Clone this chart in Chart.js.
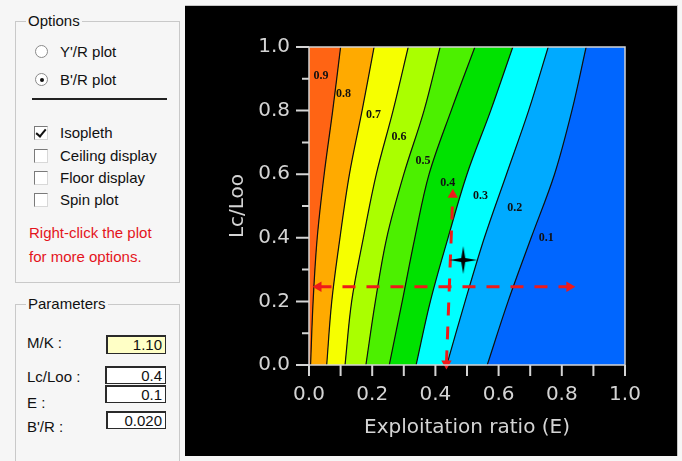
<!DOCTYPE html>
<html>
<head>
<meta charset="utf-8">
<script src="https://cdn.jsdelivr.net/npm/chart.js@4.4.1/dist/chart.umd.min.js"></script>
<style>
  html, body { margin: 0; padding: 0; width: 682px; height: 461px; overflow: hidden;
    background: #f6f6f6; font-family: "Liberation Sans", Arial, sans-serif; font-size: 15px; color: #111; }
  .t { position: absolute; white-space: nowrap; line-height: 18px; }
  .group { position: absolute; left: 15px; width: 165px; border: 1px solid #c9c9c9; box-sizing: border-box; }
  .legend { position: absolute; background: #f6f6f6; padding: 0 2px; line-height: 18px; }
  .radio { position: absolute; left: 35px; width: 13px; height: 13px; border-radius: 50%;
    box-sizing: border-box; border: 1px solid #8a8a8a; background: #fff; }
  .radio.on::after { content: ""; position: absolute; left: 3.5px; top: 3.5px; width: 4px; height: 4px;
    border-radius: 50%; background: #111; }
  .check { position: absolute; left: 34px; width: 14px; height: 14px; box-sizing: border-box; background: #fff;
    border-top: 1px solid #7a7a7a; border-left: 1px solid #7a7a7a; border-right: 1px solid #d8d8d8; border-bottom: 1px solid #d8d8d8; }
  .check.on::after { content: ""; position: absolute; left: 3px; top: 0px; width: 4px; height: 8px;
    border-right: 2.5px solid #111; border-bottom: 2.5px solid #111; transform: rotate(40deg); }
  .field { position: absolute; box-sizing: border-box; background: #fff; text-align: right; padding-right: 3px;
    border: 1px solid #2a2a2a; border-top-width: 2px; border-left-width: 2px; line-height: 15px; }
  .note { color: #e4141c; }
  #plotBox { position: absolute; left: 185px; top: 5px; width: 493px; height: 451px; box-sizing: border-box;
    border-top: 1px solid #c4c4c4; border-right: 1px solid #c4c4c4; background: #000; }
  #plot { display: block; background: #000; }
</style>
</head>
<body>

<div class="group" style="top:21px;height:262px;"></div>
<div class="legend" style="left:26px;top:12px;">Options</div>
<div class="radio" style="top:45px;"></div>
<div class="t" style="left:60px;top:43px;">Y'/R plot</div>
<div class="radio on" style="top:73px;"></div>
<div class="t" style="left:60px;top:71px;">B'/R plot</div>
<div style="position:absolute;left:32px;top:98px;width:135px;height:2px;background:#222;"></div>
<div class="check on" style="top:126px;"></div>
<div class="t" style="left:60px;top:124px;">Isopleth</div>
<div class="check" style="top:149px;"></div>
<div class="t" style="left:60px;top:147px;">Ceiling display</div>
<div class="check" style="top:171px;"></div>
<div class="t" style="left:60px;top:169px;">Floor display</div>
<div class="check" style="top:193px;"></div>
<div class="t" style="left:60px;top:191px;">Spin plot</div>
<div class="t note" style="left:29px;top:224px;">Right-click the plot</div>
<div class="t note" style="left:29px;top:248px;">for more options.</div>

<div class="group" style="top:304px;height:170px;"></div>
<div class="legend" style="left:26px;top:295px;">Parameters</div>
<div class="t" style="left:27px;top:334px;">M/K :</div>
<div class="field" style="left:106px;top:335px;width:60px;height:19px;background:#ffffc6;">1.10</div>
<div class="t" style="left:27px;top:368px;">Lc/Loo :</div>
<div class="field" style="left:105px;top:366px;width:61px;height:18px;">0.4</div>
<div class="t" style="left:27px;top:394px;">E :</div>
<div class="field" style="left:105px;top:385px;width:61px;height:18px;">0.1</div>
<div class="t" style="left:27px;top:418px;">B'/R :</div>
<div class="field" style="left:106px;top:411px;width:60px;height:18px;">0.020</div>

<div id="plotBox"><canvas id="plot" width="492" height="450"></canvas></div>

<script>
// B'/R isopleth labels and the colour of the band each one names
const levelLabels = ['0.9', '0.8', '0.7', '0.6', '0.5', '0.4', '0.3', '0.2', '0.1'];
const bandColors = ['#ff6414', '#ffaa00', '#f6ff00', '#aaff00', '#4cf000', '#00e200', '#00ffff', '#00aaff', '#0066ff'];

// Lc/Loo values where each isopleth is sampled
const lcLevels = [0, 0.2, 0.4, 0.6, 0.8, 1.0];

// E position of each isopleth at those Lc/Loo values
const iso08 = [0.005, 0.013, 0.026, 0.048, 0.075, 0.100];
const iso07 = [0.056, 0.072, 0.098, 0.128, 0.168, 0.206];
const iso06 = [0.114, 0.135, 0.172, 0.213, 0.266, 0.314];
const iso05 = [0.180, 0.210, 0.246, 0.300, 0.364, 0.415];
const iso04 = [0.254, 0.295, 0.335, 0.380, 0.450, 0.525];
const iso03 = [0.339, 0.384, 0.440, 0.500, 0.575, 0.645];
const iso02 = [0.436, 0.494, 0.555, 0.625, 0.695, 0.757];
const iso01 = [0.564, 0.630, 0.703, 0.777, 0.832, 0.877];

// where the isopleth labels sit (E, Lc/Loo)
const labelE  = [0.038, 0.109, 0.204, 0.285, 0.361, 0.439, 0.543, 0.651, 0.751];
const labelLc = [0.909, 0.852, 0.786, 0.718, 0.643, 0.572, 0.533, 0.493, 0.399];

// reading lines: Lc/Loo across, E up/down
const hArrowE  = [0.030, 0.824];
const hArrowLc = [0.246, 0.246];
const vArrowE  = [0.435, 0.455];
const vArrowLc = [0.005, 0.535];

// current optimum marker
const optE  = [0.488];
const optLc = [0.330];

const isopleths = [iso08, iso07, iso06, iso05, iso04, iso03, iso02, iso01];
const toPts = (es, lcs) => es.map((e, k) => ({ x: e, y: lcs[k] }));
const TENSION = 0.35;

// Each band is the closed shape between two neighbouring isopleths.
// The top corners are repeated so the curve bends exactly like the
// isopleth drawn on its own (an end point's own neighbour is itself).
const bounds = [lcLevels.map(() => 0), ...isopleths, lcLevels.map(() => 1)];
const bandSets = bandColors.map((color, i) => {
    const up = toPts(bounds[i], lcLevels);
    const down = toPts(bounds[i + 1], lcLevels).reverse();
    return {
        data: [...up, up[up.length - 1], down[0], ...down],
        showLine: true,
        fill: 'shape',
        backgroundColor: color,
        borderWidth: 0,
        pointRadius: 0,
        tension: TENSION,
        order: 4
    };
});

const lineSets = isopleths.map(iso => ({
    data: toPts(iso, lcLevels),
    showLine: true,
    fill: false,
    borderColor: '#101010',
    borderWidth: 1.2,
    pointRadius: 0,
    tension: TENSION,
    order: 3
}));

const arrowStyle = {
    showLine: true,
    fill: false,
    borderColor: '#ee1a1a',
    borderWidth: 3,
    borderDash: [13, 11],
    pointStyle: 'triangle',
    pointRadius: 6,
    pointBackgroundColor: '#ee1a1a',
    pointBorderWidth: 0,
    clip: false,
    order: 2
};

// four-pointed star used for the marker
function makeStar() {
    const c = document.createElement('canvas');
    c.width = 30; c.height = 30;
    const g = c.getContext('2d');
    g.fillStyle = '#000';
    g.beginPath();
    g.moveTo(15, 1); g.lineTo(17, 13); g.lineTo(29, 15); g.lineTo(17, 17);
    g.lineTo(15, 29); g.lineTo(13, 17); g.lineTo(1, 15); g.lineTo(13, 13);
    g.closePath();
    g.fill();
    return c;
}

const axisColor = '#d4d4d4';
const axisFont = { family: 'DejaVu Sans', size: 20 };

// plot frame, tick marks and isopleth labels
const isoDecor = {
    id: 'isoDecor',
    afterDatasetsDraw(chart) {
        const { ctx, scales: { x, y } } = chart;
        ctx.save();
        ctx.font = 'bold 12px "Liberation Serif", serif';
        ctx.fillStyle = '#111';
        ctx.textAlign = 'center';
        ctx.textBaseline = 'middle';
        levelLabels.forEach((t, i) => {
            ctx.fillText(t, x.getPixelForValue(labelE[i]), y.getPixelForValue(labelLc[i]));
        });
        ctx.restore();
    },
    afterDraw(chart) {
        const { ctx, chartArea: a, scales: { x, y } } = chart;
        ctx.save();
        ctx.strokeStyle = axisColor;
        ctx.lineWidth = 1.5;
        ctx.strokeRect(a.left, a.top, a.right - a.left, a.bottom - a.top);
        ctx.lineWidth = 2;
        ctx.beginPath();
        for (let i = 0; i <= 10; i++) {
            const px = x.getPixelForValue(i / 10);
            ctx.moveTo(px, a.bottom);
            ctx.lineTo(px, a.bottom + 11);
            const py = y.getPixelForValue(i / 10);
            ctx.moveTo(a.left, py);
            ctx.lineTo(a.left - (i % 2 === 0 ? 13 : 7), py);
        }
        ctx.stroke();
        ctx.restore();
    }
};

new Chart(document.getElementById('plot'), {
    type: 'scatter',
    data: {
        datasets: [
            ...bandSets,
            ...lineSets,
            { ...arrowStyle, data: toPts(hArrowE, hArrowLc), pointRotation: [-90, 90] },
            { ...arrowStyle, data: toPts(vArrowE, vArrowLc), pointRotation: [180, 0] },
            { data: toPts(optE, optLc), pointStyle: makeStar(), pointRadius: 15, clip: false, order: 1 }
        ]
    },
    options: {
        responsive: false,
        animation: false,
        events: [],
        layout: { padding: { left: 0, top: 41, right: 52, bottom: 0 } },
        plugins: { legend: { display: false }, tooltip: { enabled: false } },
        scales: {
            x: {
                type: 'linear',
                min: 0,
                max: 1,
                afterFit: s => { s.height = 91; },
                grid: { display: false, drawTicks: false },
                border: { display: false },
                ticks: {
                    stepSize: 0.2,
                    padding: 18,
                    color: axisColor,
                    font: axisFont,
                    maxRotation: 0,
                    callback: v => v.toFixed(1)
                },
                title: {
                    display: true,
                    text: 'Exploitation ratio (E)',
                    color: axisColor,
                    font: axisFont,
                    padding: { top: 0, bottom: 16 }
                }
            },
            y: {
                type: 'linear',
                min: 0,
                max: 1,
                afterFit: s => { s.width = 124; },
                grid: { display: false, drawTicks: false },
                border: { display: false },
                ticks: {
                    stepSize: 0.2,
                    padding: 19,
                    color: axisColor,
                    font: axisFont,
                    callback: v => v.toFixed(1)
                },
                title: {
                    display: true,
                    text: 'Lc/Loo',
                    color: axisColor,
                    font: axisFont,
                    padding: { top: 41, bottom: 0 }
                }
            }
        }
    },
    plugins: [isoDecor]
});
</script>
</body>
</html>
